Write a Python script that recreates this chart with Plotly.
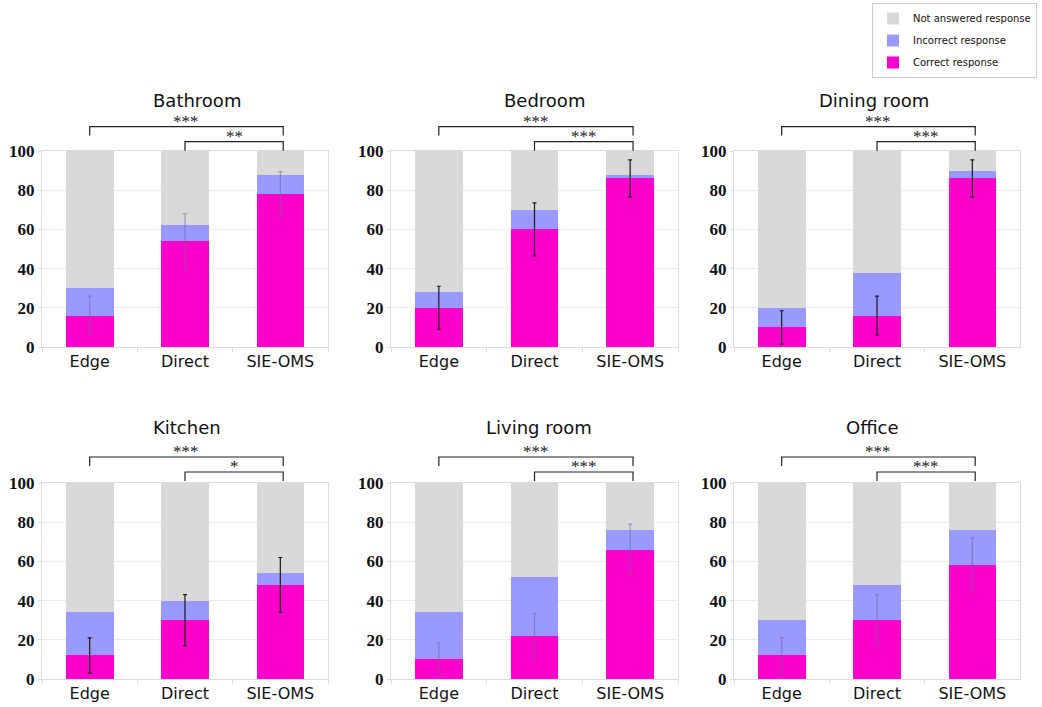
import plotly.graph_objects as go

# ---------------- data ----------------
rooms = ["Bathroom", "Bedroom", "Dining room", "Kitchen", "Living room", "Office"]
methods = ["Edge", "Direct", "SIE-OMS"]

correct = {
    "Bathroom":    [16, 54, 78],
    "Bedroom":     [20, 60, 86],
    "Dining room": [10, 16, 86],
    "Kitchen":     [12, 30, 48],
    "Living room": [10, 22, 66],
    "Office":      [12, 30, 58],
}
incorrect = {
    "Bathroom":    [14, 8, 10],
    "Bedroom":     [8, 10, 2],
    "Dining room": [10, 22, 4],
    "Kitchen":     [22, 10, 6],
    "Living room": [24, 30, 10],
    "Office":      [18, 18, 18],
}
not_answered = {
    "Bathroom":    [70, 38, 12],
    "Bedroom":     [72, 30, 12],
    "Dining room": [80, 62, 10],
    "Kitchen":     [66, 60, 46],
    "Living room": [66, 48, 24],
    "Office":      [70, 52, 24],
}
error = {
    "Bathroom":    [10, 14, 11.5],
    "Bedroom":     [11, 13.5, 9.5],
    "Dining room": [8.5, 10, 9.5],
    "Kitchen":     [9, 13, 14],
    "Living room": [8.5, 11.5, 13],
    "Office":      [9, 13, 14],
}
sig_edge = {"Bathroom": "***", "Bedroom": "***", "Dining room": "***",
            "Kitchen": "***", "Living room": "***", "Office": "***"}
sig_direct = {"Bathroom": "**", "Bedroom": "***", "Dining room": "***",
              "Kitchen": "*", "Living room": "***", "Office": "***"}

# ---------------- style ----------------
C_CORRECT = "#FF00CC"
C_INCORRECT = "#9999FF"
C_NA = "#D9D9D9"
err_dark = {"Bathroom": False, "Bedroom": True, "Dining room": True,
            "Kitchen": True, "Living room": False, "Office": False}

W, H = 1042, 707
# pixel boxes (x0, x1, ytop, ybottom)
cols_px = [(42, 328), (391, 678), (734, 1020)]
rows_px = [(151, 347), (483, 679)]
title_px = {"Bathroom": (197, 100), "Bedroom": (544, 100), "Dining room": (874, 100),
            "Kitchen": (187, 427), "Living room": (539, 427), "Office": (872, 427)}

fig = go.Figure()
layout_axes = {}
shapes = []
annotations = []

for i, room in enumerate(rooms):
    r, c = divmod(i, 3)
    x0, x1 = cols_px[c]
    yt, yb = rows_px[r]
    xa = "x" if i == 0 else f"x{i+1}"
    ya = "y" if i == 0 else f"y{i+1}"
    xkey = "xaxis" if i == 0 else f"xaxis{i+1}"
    ykey = "yaxis" if i == 0 else f"yaxis{i+1}"
    ecol = "#1a1a1a" if err_dark[room] else "rgba(110,100,140,0.55)"

    fig.add_trace(go.Bar(
        x=methods, y=correct[room], name="Correct response", marker_color=C_CORRECT,
        marker_line_width=0, xaxis=xa, yaxis=ya, showlegend=(i == 0),
        legendgroup="c", legendrank=3,
    ))
    fig.add_trace(go.Bar(
        x=methods, y=incorrect[room], name="Incorrect response", marker_color=C_INCORRECT,
        marker_line_width=0, xaxis=xa, yaxis=ya, showlegend=(i == 0),
        legendgroup="i", legendrank=2,
    ))
    fig.add_trace(go.Bar(
        x=methods, y=not_answered[room], name="Not answered response", marker_color=C_NA,
        marker_line_width=0, xaxis=xa, yaxis=ya, showlegend=(i == 0),
        legendgroup="n", legendrank=1,
    ))
    # error bars drawn on top of the stacked bars
    fig.add_trace(go.Scatter(
        x=methods, y=correct[room], mode="markers", marker=dict(size=1, opacity=0),
        xaxis=xa, yaxis=ya, showlegend=False, hoverinfo="skip",
        error_y=dict(type="data", array=error[room], color=ecol, thickness=1.2, width=2),
    ))

    layout_axes[xkey] = dict(
        domain=[x0 / W, x1 / W], anchor=ya, type="category",
        categoryorder="array", categoryarray=methods,
        showline=True, linecolor="#dcdcdc", linewidth=1, mirror=True,
        ticks="outside", tickson="boundaries", ticklen=4, tickcolor="#dcdcdc",
        showgrid=False, tickfont=dict(family="DejaVu Sans", size=16, color="#111"),
        fixedrange=True,
    )
    layout_axes[ykey] = dict(
        domain=[1 - yb / H, 1 - yt / H], anchor=xa, range=[0, 100],
        tickvals=[0, 20, 40, 60, 80, 100],
        showline=True, linecolor="#dcdcdc", linewidth=1, mirror=True,
        ticks="outside", ticklen=3, tickcolor="#dcdcdc",
        showgrid=True, gridcolor="#ececec", gridwidth=1, zeroline=False,
        tickfont=dict(family="Liberation Serif, Times New Roman, serif", size=17,
                      color="#111", weight="bold"),
        fixedrange=True,
    )

    # significance brackets (y in domain units of the subplot)
    h = yb - yt
    if r == 0:
        b1, t1, b2, t2 = 126.7, 135.5, 141.7, 150.7
    else:
        b1, t1, b2, t2 = 457, 466, 472, 481
    d = lambda p: (yb - p) / h
    line = dict(color="#222", width=1.2)
    xr = 2.03
    shapes.append(dict(type="path", xref=xa, yref=f"{ya} domain",
                       path=f"M 0,{d(t1)} L 0,{d(b1)} L {xr},{d(b1)} L {xr},{d(t1)}",
                       line=line))
    shapes.append(dict(type="path", xref=xa, yref=f"{ya} domain",
                       path=f"M 1,{d(t2)} L 1,{d(b2)} L {xr},{d(b2)} L {xr},{d(t2)}",
                       line=line))
    annotations.append(dict(x=(0 + xr) / 2, y=d(b1), xref=xa, yref=f"{ya} domain",
                            text=sig_edge[room], showarrow=False, yanchor="bottom",
                            yshift=-6, font=dict(family="Liberation Serif", size=17, color="#222")))
    annotations.append(dict(x=(1 + xr) / 2, y=d(b2), xref=xa, yref=f"{ya} domain",
                            text=sig_direct[room], showarrow=False, yanchor="bottom",
                            yshift=-6, font=dict(family="Liberation Serif", size=17, color="#222")))
    tx, ty = title_px[room]
    annotations.append(dict(x=tx / W, y=1 - ty / H, xref="paper", yref="paper",
                            text=room, showarrow=False, xanchor="center", yanchor="middle",
                            font=dict(family="DejaVu Sans", size=18, color="#111")))

fig.update_layout(
    width=W, height=H, margin=dict(l=0, r=0, t=0, b=0, autoexpand=False),
    paper_bgcolor="white", plot_bgcolor="white",
    barmode="stack", bargap=0.5,
    shapes=shapes, annotations=annotations,
    legend=dict(x=1037 / W, y=1 - 3 / H, xanchor="right", yanchor="top",
                traceorder="grouped", tracegroupgap=3,
                bordercolor="#cccccc", borderwidth=1,
                bgcolor="white", font=dict(family="DejaVu Sans", size=10, color="#111"),
                itemwidth=30),
    showlegend=True,
    **layout_axes,
)

fig.write_html("out.html", config={"displayModeBar": False},
               post_script="document.body.style.margin='0px';document.body.style.overflow='hidden';")
